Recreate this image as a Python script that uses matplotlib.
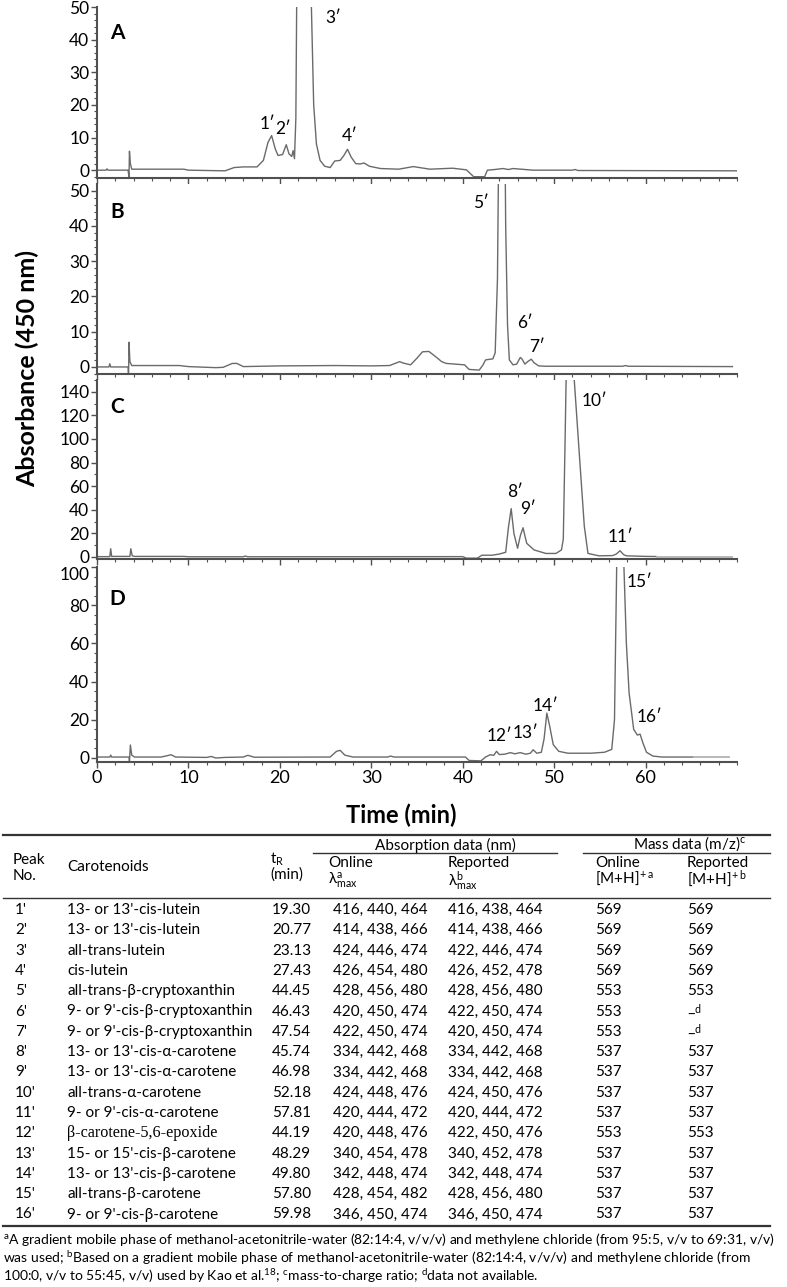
import matplotlib.pyplot as plt
from matplotlib.lines import Line2D
from matplotlib.ticker import MultipleLocator

plt.rcParams['font.family'] = ['Lato', 'DejaVu Sans']
plt.rcParams['mathtext.default'] = 'regular'

# ---- chromatogram traces (time in min, absorbance) ----
time_A = [0, 1.0, 1.1, 1.2, 3.4, 3.5, 3.55, 3.65, 3.8, 9.5, 10.0, 14.0, 15.0,
          16.0, 17.5, 18.2, 18.7, 19.1, 19.5, 19.8, 20.3, 20.7, 21.0, 21.3,
          21.45, 21.6, 21.75, 21.85, 22.0, 22.6, 23.1, 23.45, 23.7, 24.0, 24.4,
          24.9, 25.5, 26.0, 26.6, 27.0, 27.4, 27.8, 28.3, 28.8, 29.2, 29.8,
          31.0, 33.0, 34.6, 36.4, 38.9, 40.4, 41.2, 42.4, 42.7, 43.5, 44.4,
          45.0, 45.5, 47.7, 52.0, 52.3, 52.6, 70.0]
abs_A = [0.0, 0.0, 0.4, 0.0, 0.0, -2.2, 5.8, 2.0, 0.3, 0.3, 0.0, -0.2, 0.8,
         1.0, 1.0, 3.0, 8.5, 10.6, 6.5, 4.5, 4.8, 7.8, 5.0, 4.2,
         6.0, 3.5, 16, 55, 150, 300, 150, 50, 20, 8, 3,
         1.2, 0.8, 2.8, 3.0, 4.5, 6.4, 4.0, 2.0, 1.9, 2.2, 1.2,
         0.5, 0.3, 1.1, 0.3, 0.6, 0.1, -2.0, -2.0, 0.0, 0.2, 0.5,
         0.2, 0.5, 0.0, 0.0, 0.2, -0.1, -0.2]

time_B = [0, 1.3, 1.4, 1.5, 3.4, 3.45, 3.5, 3.6, 3.8, 9.0, 10.0, 13.0, 13.8,
          14.8, 15.3, 16.0, 20.0, 26.0, 30.0, 32.0, 33.1, 33.5, 34.3, 35.0,
          35.6, 36.3, 37.0, 37.7, 38.2, 40.2, 40.7, 41.8, 42.2, 42.5, 43.3,
          43.55, 43.8, 44.0, 44.15, 44.45, 44.7, 44.9, 45.1, 45.5, 45.9, 46.3,
          46.5, 46.8, 47.1, 47.5, 47.8, 48.3, 49.0, 57.5, 57.8, 58.1, 69.5]
abs_B = [0.0, 0.0, 0.9, 0.0, 0.0, -3.0, 7.0, 1.5, 0.4, 0.4, 0.1, -0.2, -0.1,
         1.0, 1.0, 0.1, 0.3, 0.4, 0.3, 0.4, 1.5, 1.1, 0.6, 2.5,
         4.3, 4.4, 3.0, 1.5, 1.0, 0.6, -0.7, -0.9, 0.5, 2.0, 2.3,
         4.0, 25, 80, 130, 120, 40, 12, 2.0, 0.6, 0.8, 2.7,
         2.2, 0.8, 1.5, 2.2, 1.2, 0.3, 0.2, 0.2, 0.4, 0.2, 0.1]

time_C = [0, 1.4, 1.5, 1.6, 3.6, 3.7, 3.85, 4.1, 9.5, 10.0, 16.0, 16.2, 16.5,
          40.0, 40.4, 41.6, 42.1, 43.2, 44.0, 44.7, 45.0, 45.3, 45.6, 46.0,
          46.3, 46.6, 46.8, 47.0, 47.8, 49.1, 50.2, 50.8, 51.0, 51.2, 51.7,
          52.1, 52.2, 52.8, 53.3, 53.7, 54.9, 56.4, 56.8, 57.2, 57.6, 57.9,
          60.1, 61.2]
abs_C = [0.3, 0.3, 7.0, 0.5, 0.5, 7.0, 1.0, 0.5, 0.5, 0.2, 0.2, 0.8, 0.2,
         0.3, -1.0, -1.0, 1.5, 1.5, 2.5, 4.0, 25, 41, 20, 7.4,
         18, 24.8, 18, 11.6, 6.0, 3.0, 3.0, 6.0, 15, 100, 330,
         170, 150, 82, 26, 3.0, 1.0, 1.2, 2.5, 5.3, 2.0, 1.0,
         0.5, 0.4]

time_D = [0, 1.4, 1.5, 1.6, 3.5, 3.55, 3.65, 3.8, 4.1, 7.0, 7.5, 8.1, 8.6,
          12.0, 12.5, 13.0, 14.0, 16.0, 16.5, 17.2, 25.5, 26.2, 26.6, 27.1,
          28.0, 31.8, 32.1, 32.5, 40.3, 40.7, 42.0, 42.5, 43.0, 43.4, 43.7,
          44.0, 44.6, 45.2, 45.7, 46.3, 46.9, 47.4, 47.7, 48.1, 48.6, 48.9,
          49.2, 49.5, 49.9, 50.5, 51.5, 54.0, 55.5, 56.3, 56.6, 56.9, 57.2,
          57.6, 57.9, 58.2, 58.7, 59.1, 59.4, 59.7, 60.1, 60.8, 61.8, 65.3]
abs_D = [0.5, 0.5, 1.5, 0.5, 0.5, -2.0, 6.8, 1.5, 0.5, 0.5, 1.0, 1.7, 0.5,
         0.3, 0.8, 0.0, 0.3, 0.5, 1.4, 0.4, 0.5, 3.5, 4.0, 1.5,
         0.5, 0.5, 1.0, 0.5, 0.5, -1.3, -1.5, 0.5, 1.7, 1.4, 3.5,
         1.8, 2.0, 2.8, 2.2, 2.8, 2.0, 2.5, 4.3, 2.5, 3.0, 10,
         23.5, 17, 7.0, 3.5, 2.5, 2.5, 3.0, 4.5, 20, 120, 250,
         105, 60, 34, 15, 12, 12.5, 8.0, 3.0, 1.0, 0.5, 0.5]

peak_labels_A = ["1′", "2′", "3′", "4′"]
peak_labels_B = ["5′", "6′", "7′"]
peak_labels_C = ["8′", "9′", "10′", "11′"]
peak_labels_D = ["12′", "13′", "14′", "15′", "16′"]

# ---- table ----
peak_no = ["1'", "2'", "3'", "4'", "5'", "6'", "7'", "8'", "9'", "10'", "11'",
           "12'", "13'", "14'", "15'", "16'"]
carotenoids = ["13- or 13'-cis-lutein", "13- or 13'-cis-lutein",
               "all-trans-lutein", "cis-lutein", "all-trans-β-cryptoxanthin",
               "9- or 9'-cis-β-cryptoxanthin", "9- or 9'-cis-β-cryptoxanthin",
               "13- or 13'-cis-α-carotene", "13- or 13'-cis-α-carotene",
               "all-trans-α-carotene", "9- or 9'-cis-α-carotene",
               "β-carotene-5,6-epoxide", "15- or 15'-cis-β-carotene",
               "13- or 13'-cis-β-carotene", "all-trans-β-carotene",
               "9- or 9'-cis-β-carotene"]
t_R = ["19.30", "20.77", "23.13", "27.43", "44.45", "46.43", "47.54", "45.74",
       "46.98", "52.18", "57.81", "44.19", "48.29", "49.80", "57.80", "59.98"]
online_lmax = ["416, 440, 464", "414, 438, 466", "424, 446, 474",
               "426, 454, 480", "428, 456, 480", "420, 450, 474",
               "422, 450, 474", "334, 442, 468", "334, 442, 468",
               "424, 448, 476", "420, 444, 472", "420, 448, 476",
               "340, 454, 478", "342, 448, 474", "428, 454, 482",
               "346, 450, 474"]
reported_lmax = ["416, 438, 464", "414, 438, 466", "422, 446, 474",
                 "426, 452, 478", "428, 456, 480", "422, 450, 474",
                 "420, 450, 474", "334, 442, 468", "334, 442, 468",
                 "424, 450, 476", "420, 444, 472", "422, 450, 476",
                 "340, 452, 478", "342, 448, 474", "428, 456, 480",
                 "346, 450, 474"]
online_mz = ["569", "569", "569", "569", "553", "553", "553", "537", "537",
             "537", "537", "553", "537", "537", "537", "537"]
reported_mz = ["569", "569", "569", "569", "553", "–$^{d}$", "–$^{d}$", "537",
               "537", "537", "537", "553", "537", "537", "537", "537"]

footnotes = [
    "$^{a}$A gradient mobile phase of methanol-acetonitrile-water (82:14:4, v/v/v) "
    "and methylene chloride (from 95:5, v/v to 69:31, v/v)",
    "was used; $^{b}$Based on a gradient mobile phase of methanol-acetonitrile-water "
    "(82:14:4, v/v/v) and methylene chloride (from",
    "100:0, v/v to 55:45, v/v) used by Kao et al.$^{18}$; $^{c}$mass-to-charge ratio; "
    "$^{d}$data not available.",
]

# ---- figure, laid out in pixels ----
W, H = 787, 1287
fig = plt.figure(figsize=(W / 100, H / 100), dpi=100)


def fx(px):
    return px / W


def fy(py):
    return 1 - py / H


line_color = "#6a6a6a"
axis_color = "#505050"
x_left, x_right = 97, 737

# letter, t, a, labels, label positions, top px, bottom px, ylim, yticks, minor, tail end
panels = [
    ("A", time_A, abs_A, peak_labels_A,
     [(18.6, 14), (20.4, 12.5), (25.8, 46.5), (27.6, 10.5)],
     7, 178, (-2.4, 50.0), range(0, 51, 10), 2, None, 42),
    ("B", time_B, abs_B, peak_labels_B,
     [(42.0, 46.4), (46.8, 12.4), (48.1, 5.8)],
     184, 374, (-2.0, 51.9), range(0, 51, 10), 2, None, 44),
    ("C", time_C, abs_C, peak_labels_C,
     [(45.7, 55), (47.1, 41), (54.4, 132), (57.2, 16.7)],
     380, 559, (-1.7, 150), range(0, 141, 20), 10, 69.4, 127),
    ("D", time_D, abs_D, peak_labels_D,
     [(44.0, 11.3), (46.9, 13), (49.1, 27), (59.3, 92), (60.4, 21.7)],
     567, 762, (-2.1, 100), range(0, 101, 20), 5, 69.1, 83.5),
]

for i, (letter, t, a, labels, lpos, top, bot, ylim, yticks, minor, tail,
        letter_y) in enumerate(panels):
    ax = fig.add_axes([fx(x_left), fy(bot), fx(x_right) - fx(x_left),
                       (bot - top) / H])
    ax.plot(t, a, color=line_color, lw=1.0)
    if tail is not None:
        ax.plot([t[-1], tail], [a[-1], a[-1]], color="#b8b8b8", lw=1.4)
    ax.set_xlim(0, 70)
    ax.set_ylim(*ylim)
    ax.set_xticks(range(0, 61, 10))
    ax.xaxis.set_minor_locator(MultipleLocator(2))
    ax.set_yticks(list(yticks))
    ax.yaxis.set_minor_locator(MultipleLocator(minor))
    for side in ("top", "right"):
        ax.spines[side].set_visible(False)
    for side in ("left", "bottom"):
        ax.spines[side].set_color(axis_color)
        ax.spines[side].set_linewidth(1.5)
    ax.tick_params(which="major", direction="out", length=4, width=1,
                   color=axis_color, labelsize=12.5, pad=1.5)
    ax.tick_params(which="minor", direction="out", length=2, width=0.8,
                   color=axis_color)
    if i < 3:
        ax.tick_params(axis="x", labelbottom=False)
    else:
        ax.tick_params(axis="x", labelsize=13, pad=2)
        # top label of D sits a little lower, clear of the C panel's 0
        ax.yaxis.get_major_ticks()[-1].label1.set_verticalalignment("top")
    ax.text(2.2, letter_y, letter, fontsize=15, fontweight="bold",
            ha="center", va="center")
    for lab, (lx, ly) in zip(labels, lpos):
        ax.text(lx, ly, lab, fontsize=12.5, ha="center", va="center")

fig.text(fx(27), fy(369), "Absorbance (450 nm)", rotation=90, fontsize=18,
         fontweight="bold", ha="center", va="center")
fig.text(fx(401), fy(815), "Time (min)", fontsize=17, fontweight="bold",
         ha="center", va="center")

# ---- table ----
tab_fs = 11


def hline(y, x0, x1, lw=1.0):
    fig.add_artist(Line2D([fx(x0), fx(x1)], [fy(y), fy(y)], color="#333333",
                          lw=lw, transform=fig.transFigure))


def txt(x, y, s, **kw):
    kw.setdefault("fontsize", tab_fs)
    kw.setdefault("ha", "left")
    fig.text(fx(x), fy(y), s, va="center", **kw)


hline(835, 3, 770, 1.6)
hline(853, 313, 557, 1.0)
hline(853, 583, 770, 1.0)
hline(898, 3, 770, 1.0)

txt(445, 845, "Absorption data (nm)", ha="center")
txt(690, 844, "Mass data (m/z)$^{c}$", ha="center")
txt(13, 860, "Peak")
txt(13, 876, "No.")
txt(67, 867, "Carotenoids")
txt(270, 859, "t$_{R}$")
txt(270, 875, "(min)")
txt(328, 863, "Online")
txt(328, 881, "λ$_{max}^{a}$")
txt(448, 863, "Reported")
txt(448, 881, "λ$_{max}^{b}$")
txt(595, 863, "Online")
txt(595, 879, "[M+H]$^{+\\,a}$")
txt(687, 863, "Reported")
txt(687, 879, "[M+H]$^{+\\,b}$")

row_y0, row_dy = 910, 20.3
for k in range(len(peak_no)):
    y = row_y0 + k * row_dy
    txt(15, y, peak_no[k])
    if carotenoids[k].startswith("β-carotene-5"):
        txt(67, y, carotenoids[k], family=["Liberation Serif", "DejaVu Serif"],
            fontsize=tab_fs + 0.6)
    else:
        txt(67, y, carotenoids[k])
    txt(272, y, t_R[k])
    txt(333, y, online_lmax[k])
    txt(448, y, reported_lmax[k])
    txt(595, y, online_mz[k])
    txt(687, y, reported_mz[k])

hline(row_y0 + 15 * row_dy + 11, 3, 770, 1.6)

for k, line in enumerate(footnotes):
    txt(3, 1240 + k * 18, line, fontsize=10)

fig.savefig("out.png", dpi=100)
